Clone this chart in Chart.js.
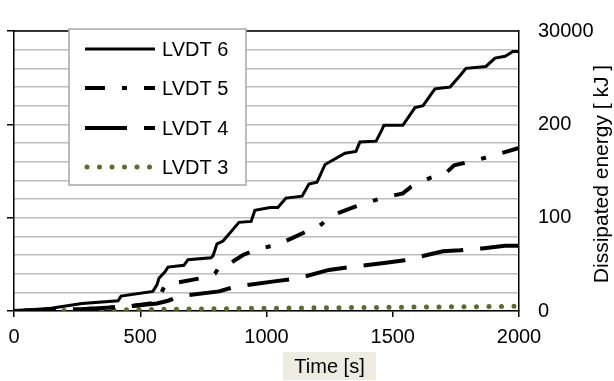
<!DOCTYPE html>
<html>
<head>
<meta charset="utf-8">
<script src="https://cdn.jsdelivr.net/npm/chart.js@4/dist/chart.umd.min.js"></script>
<style>
  html, body { margin: 0; padding: 0; background: #fff; }
  #wrap { width: 614px; height: 381px; }
</style>
</head>
<body>
<div id="wrap"><canvas id="chartOne" width="614" height="381"></canvas></div>
<script>
/* values: time [s] and dissipated energy [kJ] */
const t6 = [0, 147, 269, 412, 424, 550, 566, 574, 598, 610, 673, 689, 780, 788, 804, 828, 891, 939, 954, 1014, 1045, 1077, 1141, 1168, 1200, 1232, 1311, 1354, 1370, 1434, 1457, 1465, 1540, 1588, 1620, 1667, 1727, 1766, 1790, 1869, 1905, 1945, 1976, 2000];
const e6 = [0, 3, 8, 11, 16, 21, 28, 35, 42, 47, 49, 55, 57, 59, 72, 75, 95, 96, 108, 111, 111, 121, 123, 136, 138, 157, 169, 171, 181, 182, 194, 199, 199, 218, 220, 238, 240, 252, 260, 262, 271, 273, 278, 278];

const t5 = [0, 269, 455, 566, 598, 737, 796, 812, 843, 907, 970, 1030, 1093, 1156, 1200, 1263, 1343, 1386, 1457, 1540, 1572, 1651, 1711, 1743, 1837, 1929, 1992, 2000];
const e5 = [0, 2, 5, 9, 28, 35, 40, 47, 49, 60, 67, 70, 77, 85, 89, 103, 111, 115, 121, 126, 133, 143, 148, 156, 162, 169, 174, 174];

const t4 = [0, 269, 455, 566, 610, 657, 812, 875, 1038, 1125, 1247, 1327, 1481, 1540, 1699, 1766, 1853, 1945, 2000];
const e4 = [0, 2, 5, 8, 11, 16, 21, 26, 32, 35, 44, 47, 52, 54, 64, 65, 67, 70, 70];

const t3 = [0, 500, 1000, 1500, 2000];
const e3 = [0, 1.5, 3, 4, 5];

const seriesNames = ['LVDT 6', 'LVDT 5', 'LVDT 4', 'LVDT 3'];
const xTicks = [0, 500, 1000, 1500, 2000];
const rightTickLabels = { 0: '0', 100: '100', 200: '200', 300: '30000' };

const FONT = "'Liberation Sans', Arial, sans-serif";

function pts(t, e) {
    return t.map((v, i) => ({ x: v, y: e[i] }));
}

// draws the legend box, the top frame line, the x title box and the right title
const decor = {
    id: 'decor',
    afterDraw(chart) {
        const ctx = chart.ctx;
        const a = chart.chartArea;
        ctx.save();

        // top border of the plot
        ctx.strokeStyle = '#000';
        ctx.lineWidth = 1.5;
        ctx.beginPath();
        ctx.moveTo(a.left, a.top);
        ctx.lineTo(a.right, a.top);
        ctx.stroke();

        // legend
        ctx.fillStyle = '#fff';
        ctx.fillRect(69, 29, 177, 156);
        ctx.strokeStyle = '#a6a6a6';
        ctx.lineWidth = 1.5;
        ctx.strokeRect(69, 29, 177, 156);
        const rows = [49, 88, 128, 167];
        chart.data.datasets.forEach((ds, i) => {
            const y = rows[i];
            ctx.strokeStyle = ds.borderColor;
            ctx.lineWidth = ds.borderWidth;
            ctx.lineCap = ds.borderCapStyle || 'butt';
            ctx.setLineDash(ds.borderDash || []);
            ctx.beginPath();
            ctx.moveTo(i === 3 ? 87 : 85, y);
            ctx.lineTo(155, y);
            ctx.stroke();
            ctx.setLineDash([]);
            ctx.fillStyle = '#000';
            ctx.font = '20px ' + FONT;
            ctx.textBaseline = 'middle';
            ctx.textAlign = 'left';
            ctx.fillText(ds.label, 162, y + 1);
        });

        // x title in a beige box
        ctx.fillStyle = '#eeece1';
        ctx.fillRect(283, 352, 93, 28);
        ctx.fillStyle = '#000';
        ctx.font = '20px ' + FONT;
        ctx.textAlign = 'center';
        ctx.textBaseline = 'middle';
        ctx.fillText('Time [s]', 329.5, 367);

        // right title, reading bottom to top
        ctx.translate(608, 174);
        ctx.rotate(-Math.PI / 2);
        ctx.font = '21px ' + FONT;
        ctx.textBaseline = 'alphabetic';
        ctx.fillText('Dissipated energy [ kJ ]', 0, 0);
        ctx.restore();
    }
};

const ctx1 = document.getElementById('chartOne').getContext('2d');
const chartOne = new Chart(ctx1, {
    type: 'line',
    data: {
        datasets: [{
            label: seriesNames[0],
            data: pts(t6, e6),
            borderColor: '#000',
            borderWidth: 3,
            yAxisID: 'y1'
        }, {
            label: seriesNames[1],
            data: pts(t5, e5),
            borderColor: '#000',
            borderWidth: 4,
            borderDash: [20, 17, 5, 17],
            yAxisID: 'y1'
        }, {
            label: seriesNames[2],
            data: pts(t4, e4),
            borderColor: '#000',
            borderWidth: 4,
            borderDash: [42, 17],
            yAxisID: 'y1'
        }, {
            label: seriesNames[3],
            data: pts(t3, e3),
            borderColor: '#596b2d',
            borderWidth: 5,
            borderDash: [0, 12.5],
            borderCapStyle: 'round',
            yAxisID: 'y1'
        }]
    },
    options: {
        responsive: false,
        animation: false,
        layout: { padding: { top: 16, left: 0, right: 0, bottom: 0 } },
        elements: { point: { radius: 0 }, line: { tension: 0 } },
        plugins: { legend: { display: false }, tooltip: { enabled: false } },
        scales: {
            x: {
                type: 'linear',
                min: 0,
                max: 2000,
                afterFit: (s) => { s.height = 70; },
                afterBuildTicks: (s) => { s.ticks = xTicks.map(v => ({ value: v })); },
                ticks: {
                    color: '#000',
                    font: { family: FONT, size: 20 },
                    padding: 8,
                    maxRotation: 0,
                    callback: (v) => String(v)
                },
                grid: { drawOnChartArea: false, color: '#000', tickLength: 6, lineWidth: 1.5 },
                border: { color: '#000', width: 1.5 }
            },
            y: {
                position: 'left',
                min: 0,
                max: 300,
                afterFit: (s) => { s.width = 14; },
                ticks: { stepSize: 100, callback: () => '', padding: 0 },
                grid: { drawOnChartArea: false, color: '#000', tickLength: 7, lineWidth: 1.5 },
                border: { color: '#000', width: 1.5 }
            },
            y1: {
                position: 'right',
                min: 0,
                max: 300,
                afterFit: (s) => { s.width = 95; },
                ticks: {
                    stepSize: 20,
                    autoSkip: false,
                    color: '#000',
                    font: { family: FONT, size: 20 },
                    padding: 19,
                    callback: (v) => rightTickLabels[v] !== undefined ? rightTickLabels[v] : ''
                },
                grid: { color: '#bdbdbd', lineWidth: 1.5, drawTicks: false },
                border: { color: '#000', width: 1.5 }
            }
        }
    },
    plugins: [decor]
});
</script>
</body>
</html>
